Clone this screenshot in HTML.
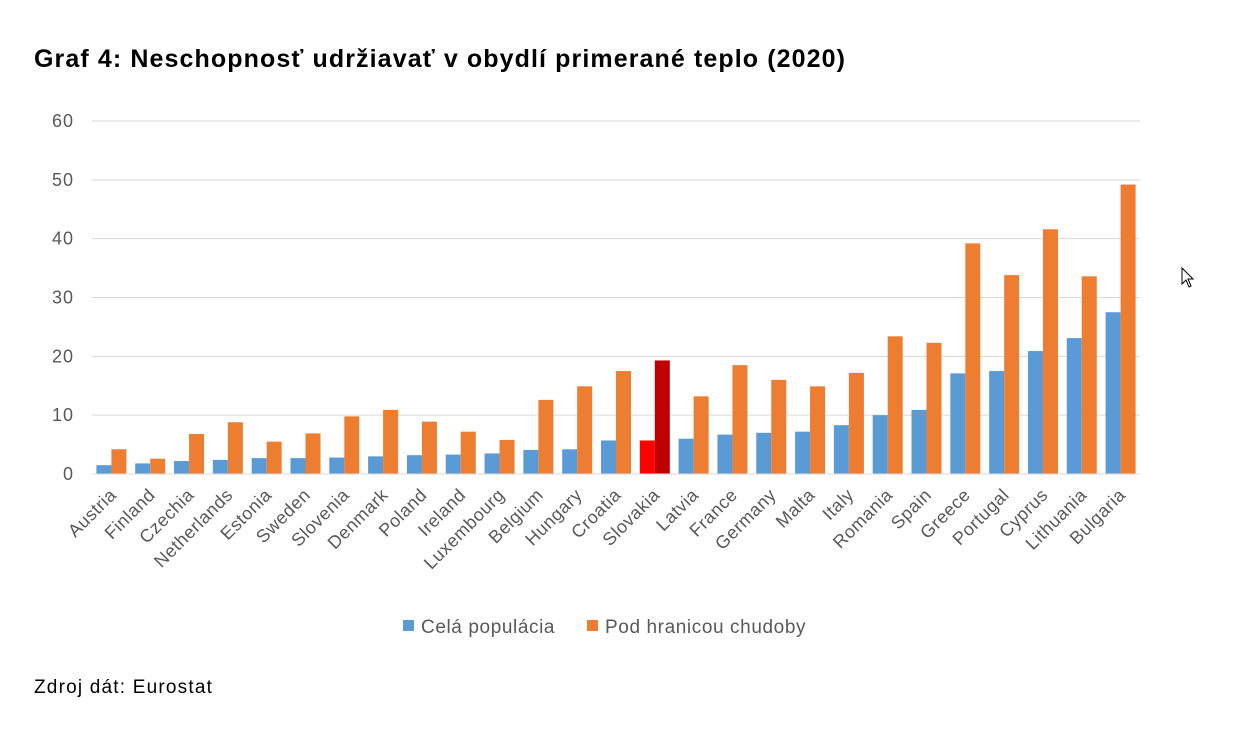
<!DOCTYPE html>
<html><head><meta charset="utf-8"><style>
body{margin:0;background:#fff;width:1236px;height:735px;overflow:hidden;font-family:"Liberation Sans",sans-serif}
#title{position:absolute;left:34px;top:45px;font-size:25px;letter-spacing:1.1px;font-weight:bold;color:#000}
#src{position:absolute;left:34px;top:677px;font-size:19px;letter-spacing:1.2px;color:#000}
</style></head><body>
<div id="title">Graf 4: Neschopnosť udržiavať v obydlí primerané teplo (2020)</div>
<svg id="chart" width="1236" height="735" style="position:absolute;left:0;top:0"></svg>
<div id="src">Zdroj dát: Eurostat</div>
<script>
const categories=["Austria","Finland","Czechia","Netherlands","Estonia","Sweden","Slovenia","Denmark","Poland","Ireland","Luxembourg","Belgium","Hungary","Croatia","Slovakia","Latvia","France","Germany","Malta","Italy","Romania","Spain","Greece","Portugal","Cyprus","Lithuania","Bulgaria"];
const wholePopulation=[1.5,1.8,2.2,2.4,2.7,2.7,2.8,3.0,3.2,3.3,3.5,4.1,4.2,5.7,5.7,6.0,6.7,7.0,7.2,8.3,10.0,10.9,17.1,17.5,20.9,23.1,27.5];
const belowPoverty=[4.2,2.6,6.8,8.8,5.5,6.9,9.8,10.9,8.9,7.2,5.8,12.6,14.9,17.5,19.3,13.2,18.5,16.0,14.9,17.2,23.4,22.3,39.2,33.8,41.6,33.6,49.2];
const yTicks=[0,10,20,30,40,50,60];
const highlight="Slovakia";
const NS="http://www.w3.org/2000/svg";
const svg=document.getElementById('chart');
const x0=92,x1=1140,y0=474,y1=121,yMax=60;
const step=(x1-x0)/categories.length, bw=15;
const y=v=>y0-(v/yMax)*(y0-y1);
const xc=i=>x0+step*(i+0.5);
function mk(t,a){const e=document.createElementNS(NS,t);for(const k in a)e.setAttribute(k,a[k]);svg.appendChild(e);return e;}
yTicks.forEach(t=>{
  const l=mk('line',{x1:x0,x2:x1,y1:y(t),y2:y(t),stroke:'#d9d9d9','stroke-width':1});
  
  
  const tx=mk('text',{x:74,y:y(t)+6,'text-anchor':'end','font-size':18,'letter-spacing':1,fill:'#595959','font-family':'Liberation Sans, sans-serif'});
  tx.textContent=t;
  
  
});
categories.forEach((c,i)=>{
  const hi=c===highlight;
  const b1=mk('rect',{x:xc(i)-bw,y:y(wholePopulation[i]),width:bw,height:y0-y(wholePopulation[i]),fill:hi?'#ff0000':'#5b9bd5'});
  
  
  const b2=mk('rect',{x:xc(i),y:y(belowPoverty[i]),width:bw,height:y0-y(belowPoverty[i]),fill:hi?'#c00000':'#ed7d31'});
  
  
  const tx=mk('text',{x:xc(i)+6,y:y0+22,'text-anchor':'end','font-size':18,'letter-spacing':0.5,fill:'#595959','font-family':'Liberation Sans, sans-serif',transform:`rotate(-45 ${xc(i)+6} ${y0+22})`});
  tx.textContent=c;
  
  
});
const ax=mk('line',{x1:x0,x2:x1,y1:y0,y2:y0,stroke:'#d9d9d9','stroke-width':1});


const legend=[["Celá populácia","#5b9bd5",403],["Pod hranicou chudoby","#ed7d31",587]];
legend.forEach(([t,c,lx],k)=>{
  const r=mk('rect',{x:lx,y:620,width:11,height:11,fill:c});
  
  
  const tx=mk('text',{x:lx+18,y:633,'font-size':19,'letter-spacing':0.6,fill:'#595959','font-family':'Liberation Sans, sans-serif'});
  tx.textContent=t;
  
  
});
const cur=mk('path',{d:'M1182 268 L1182 284 L1186 280 L1189 287 L1191 286 L1188 279 L1193 279 Z',fill:'#fff',stroke:'#000','stroke-width':1});


</script>
</body></html>
